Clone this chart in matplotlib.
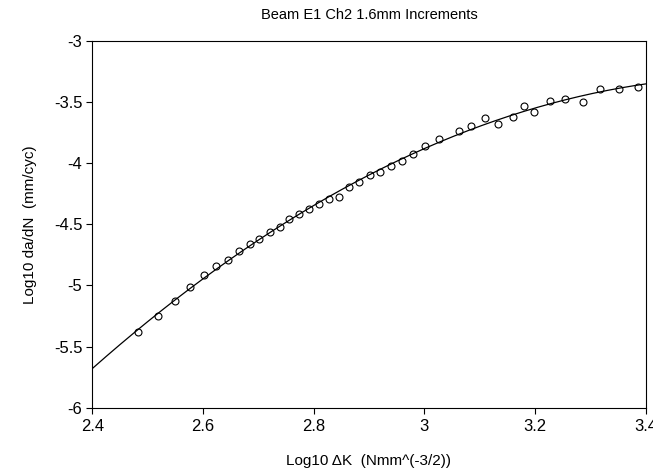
import numpy as np
import matplotlib.pyplot as plt

plt.rcParams['font.family'] = ['Liberation Sans', 'DejaVu Sans']

# Dados (log10 deltaK, log10 da/dN)
log_dk = [2.482, 2.519, 2.549, 2.576, 2.601, 2.624, 2.645, 2.665, 2.685, 2.702,
          2.721, 2.739, 2.756, 2.774, 2.792, 2.810, 2.828, 2.845, 2.863, 2.882,
          2.901, 2.920, 2.939, 2.959, 2.979, 3.001, 3.026, 3.063, 3.085, 3.110,
          3.134, 3.160, 3.180, 3.199, 3.227, 3.255, 3.286, 3.317, 3.351, 3.386]
log_dadn = [-5.379, -5.248, -5.125, -5.011, -4.918, -4.841, -4.792, -4.718, -4.661, -4.620,
            -4.563, -4.525, -4.459, -4.418, -4.375, -4.334, -4.290, -4.274, -4.195, -4.154,
            -4.097, -4.072, -4.023, -3.982, -3.925, -3.862, -3.804, -3.736, -3.698, -3.630,
            -3.677, -3.622, -3.529, -3.581, -3.491, -3.472, -3.497, -3.390, -3.390, -3.376]

x_ticks = [2.4, 2.6, 2.8, 3, 3.2, 3.4]
y_ticks = [-6, -5.5, -5, -4.5, -4, -3.5, -3]

# curva ajustada (polinomio de 2o grau)
coef = np.polyfit(log_dk, log_dadn, 2)
x_curva = np.linspace(2.4, 3.4, 200)
y_curva = np.polyval(coef, x_curva)

fig = plt.figure(figsize=(6.53, 4.73), dpi=100)
ax = fig.add_axes([0.1413, 0.1381, 0.8475, 0.7752])

ax.plot(x_curva, y_curva, color='black', linewidth=0.9)
ax.plot(log_dk, log_dadn, 'o', markerfacecolor='none', markeredgecolor='black',
        markersize=5, markeredgewidth=0.8)

ax.set_xlim(2.4, 3.4)
ax.set_ylim(-6, -3)
ax.set_xticks(x_ticks)
ax.set_xticklabels(['2.4', '2.6', '2.8', '3', '3.2', '3.4'])
ax.set_yticks(y_ticks)
ax.set_yticklabels(['-6', '-5.5', '-5', '-4.5', '-4', '-3.5', '-3'])
ax.tick_params(direction='out', length=4, width=0.8, labelsize=12)
ax.tick_params(axis='x', pad=4.5)
ax.tick_params(axis='y', pad=3.2)

for s in ax.spines.values():
    s.set_linewidth(0.8)

ax.set_xlabel('Log10 \u0394K  (Nmm^(-3/2))', fontsize=11, labelpad=14)
ax.set_ylabel('Log10 da/dN  (mm/cyc)', fontsize=11, labelpad=12)
ax.set_title('Beam E1 Ch2 1.6mm Increments', fontsize=10.5, pad=16)

fig.savefig('out.png', dpi=100)
